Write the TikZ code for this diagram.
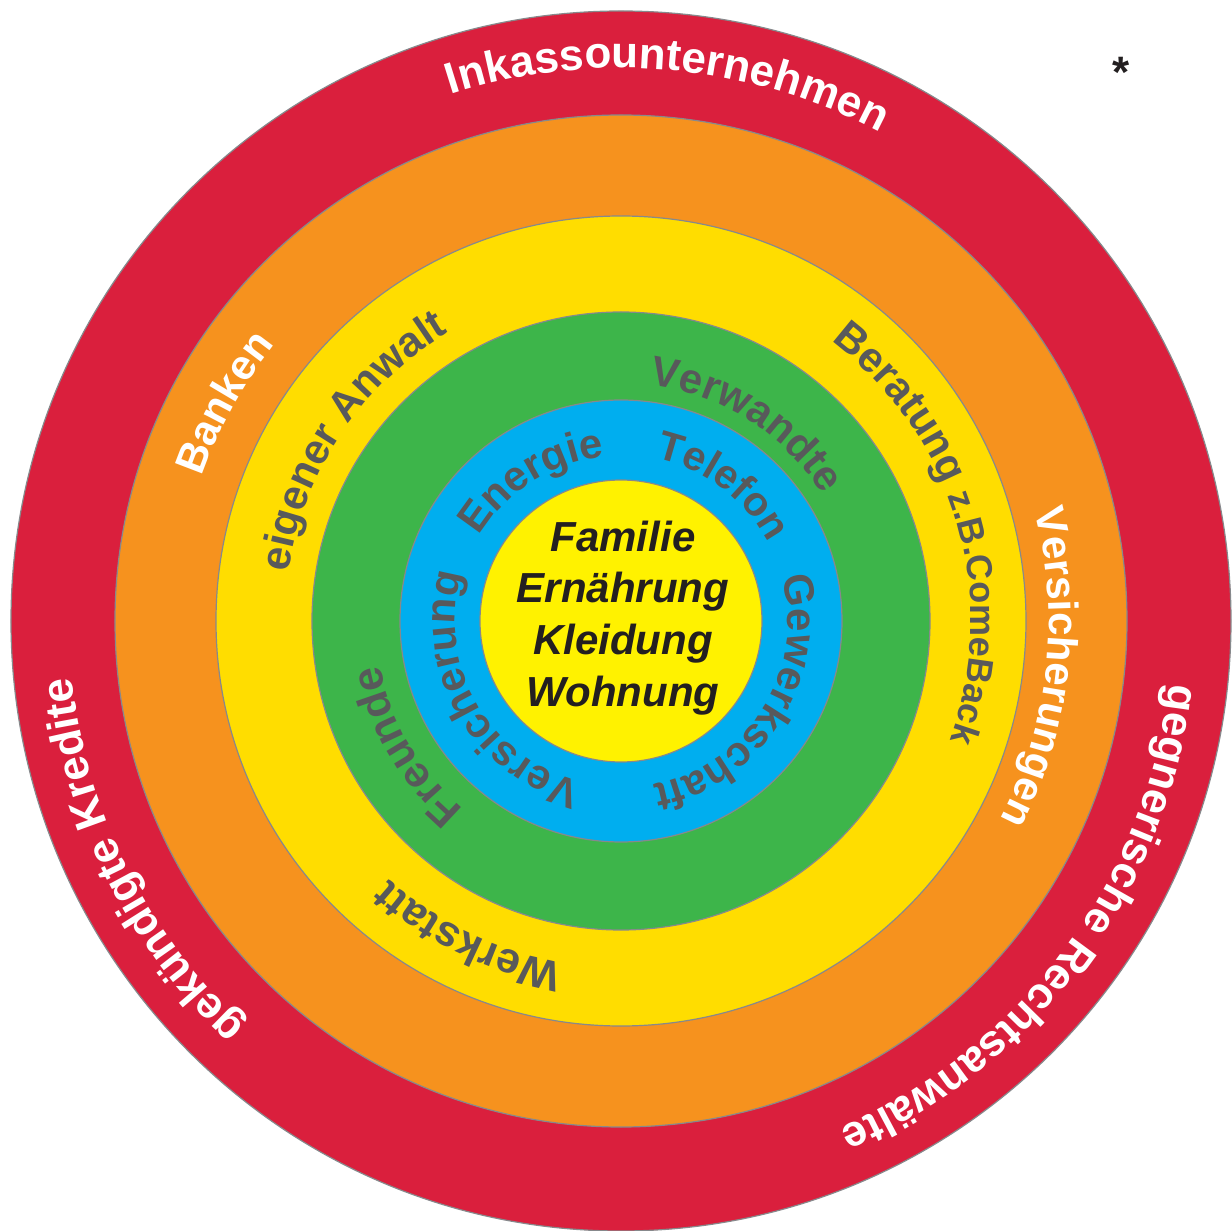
\documentclass[tikz,border=0pt]{standalone}
\usepackage{fontspec}
\setmainfont{Liberation Sans}
\usetikzlibrary{decorations.text}
\definecolor{cred}{HTML}{DA1F3D}
\definecolor{corange}{HTML}{F6921E}
\definecolor{cgold}{HTML}{FFDD00}
\definecolor{cgreen}{HTML}{3DB54A}
\definecolor{cblue}{HTML}{00AEEF}
\definecolor{cyellow}{HTML}{FFF200}
\definecolor{cgray}{HTML}{58595B}
\definecolor{cline}{HTML}{87898C}
\definecolor{cblack}{HTML}{231F20}
\newcommand\fW[1]{\fontsize{#1}{#1}\selectfont\bfseries\color{white}}
\newcommand\fG[1]{\fontsize{#1}{#1}\selectfont\bfseries\color{cgray}}
\newcommand\fRedT{\fW{44}}
\newcommand\fOrT{\fW{42}}
\newcommand\fYlT{\fG{42}}
\newcommand\fYlS{\fG{36}}
\newcommand\fGnT{\fG{43}}
\newcommand\fGnS{\fG{42}}
\newcommand\fBlT{\fG{42}}
\newcommand\fBlS{\fG{41}}
% #1 font command, #2 text, #3 centre angle, #4 half span, #5 baseline radius
\newcommand\ringlabel[5]{%
  \path[decorate, decoration={text along path, text align=center, text={|#1|#2}}]
    (#3+#4:#5pt) arc[start angle=#3+#4, end angle=#3-#4, radius=#5pt];}
\tikzset{ring/.style={draw=cline, line width=1.2pt},
  centretext/.style={font=\fontsize{42}{42}\selectfont\bfseries\itshape, text=cblack, anchor=base, inner sep=0pt}}
\begin{document}
\begin{tikzpicture}
\useasboundingbox (-621pt,-610pt) rectangle (611pt,621pt);
\fill[white] (-621pt,-610pt) rectangle (611pt,621pt);
\draw[ring, fill=cred] (0,0) circle[radius=610pt];
\draw[ring, fill=corange] (0,0) circle[radius=506pt];
\draw[ring, fill=cgold] (0,0) circle[radius=405pt];
\draw[ring, fill=cgreen] (0,0) circle[radius=309pt];
\draw[ring, fill=cblue] (0,0) circle[radius=221pt];
\draw[ring, fill=cyellow] (0,0) circle[radius=141pt];
% red ring
\ringlabel{\fRedT}{Inkassounternehmen}{85}{40}{553}
\ringlabel{\fRedT}{gekündigte Kredite}{206.5}{40}{552}
\ringlabel{\fRedT}{gegnerische Rechtsanwälte}{-36.6}{45}{552}
% orange ring
\ringlabel{\fOrT}{Banken}{151.2}{30}{443}
\ringlabel{\fOrT}{Versicherungen}{-6.35}{40}{428}
% gold ring
\ringlabel{\fYlT}{eigener Anwalt}{146.3}{45}{336}
\ringlabel{\fYlT}{Beratung |\fYlS|z.B.ComeBack}{16.6}{55}{350}
\ringlabel{\fG{43}}{Werkstatt}{244.2}{35}{347}
% green ring
\ringlabel{\fGnS}{Verwandte}{57.6}{40}{238}
\ringlabel{\fGnT}{Freunde}{210.2}{35}{245}
% blue ring
\ringlabel{\fBlT}{Energie}{122.3}{45}{165}
\ringlabel{\fBlS}{Telefon}{53}{45}{167}
\ringlabel{\fBlT}{Gewerkschaft}{-31.8}{70}{167}
\ringlabel{\fBlT}{Versicherung}{209.8}{70}{166}
% centre
\node[centretext] (familie) at (2pt,69pt) {Familie};
\node[centretext] (ernaehrung) at (2pt,18pt) {Ernährung};
\node[centretext] (kleidung) at (2pt,-34pt) {Kleidung};
\node[centretext] (wohnung) at (2pt,-86pt) {Wohnung};
\node[font=\fontsize{44}{44}\selectfont\bfseries, text=cblack, anchor=base, inner sep=0pt] (star) at (500pt,533pt) {*};
\end{tikzpicture}
\end{document}
